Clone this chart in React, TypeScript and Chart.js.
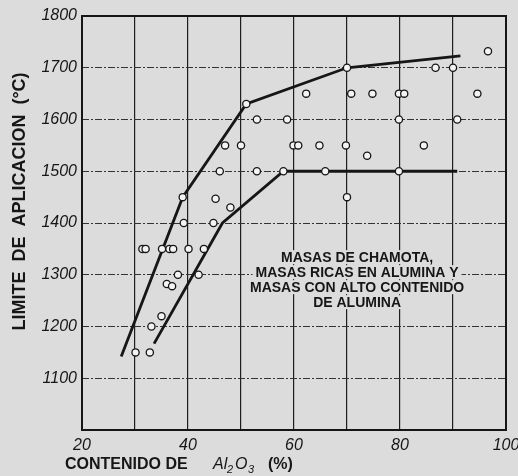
import React, { useEffect, useRef } from 'react';
import { Chart, registerables } from 'chart.js';

Chart.register(...registerables);

// ---- data ----
const xMin = 20;
const xMax = 100;
const yMin = 1000;
const yMax = 1800;
const xTickLabels = [20, 40, 60, 80, 100];
const yTickLabels = [1100, 1200, 1300, 1400, 1500, 1600, 1700, 1800];

// measured samples (open circles)
const pointX = [
  31.4, 32.0, 35.1, 36.5, 37.2, 40.1, 43.0,
  38.1, 42.0, 36.0, 37.0, 35.0, 33.1, 30.1, 32.8,
  51.0, 53.0, 47.0, 50.0, 46.0, 53.0, 39.0, 45.2, 48.0, 39.2, 44.8,
  70.0, 86.7, 90.0, 96.6, 62.3, 70.8, 74.8, 79.8, 80.8, 94.6,
  58.7, 79.8, 90.8, 59.9, 60.8, 64.8, 69.8, 73.8, 84.5,
  58.0, 65.9, 79.8, 70.0,
];
const pointY = [
  1350, 1350, 1350, 1350, 1350, 1350, 1350,
  1300, 1300, 1282, 1278, 1220, 1200, 1150, 1150,
  1630, 1600, 1550, 1550, 1500, 1500, 1450, 1447, 1430, 1400, 1400,
  1700, 1700, 1700, 1732, 1650, 1650, 1650, 1650, 1650, 1650,
  1600, 1600, 1600, 1550, 1550, 1550, 1550, 1530, 1550,
  1500, 1500, 1500, 1450,
];

// upper limit curve
const upperX = [27.4, 39.0, 51.0, 70.0, 91.4];
const upperY = [1142, 1450, 1630, 1700, 1723];

// lower limit curve
const lowerX = [33.6, 46.5, 58.0, 90.8];
const lowerY = [1167, 1400, 1500, 1500];

const noteLines = [
  'MASAS DE CHAMOTA,',
  'MASAS RICAS EN ALUMINA Y',
  'MASAS CON ALTO CONTENIDO',
  'DE ALUMINA',
];
const noteAnchorX = 71.9;
const noteAnchorY = 1334;

const yTitle = 'LIMITE  DE  APLICACION  (°C)';
const xTitleMain = 'CONTENIDO DE';
const xTitleChem = ['Al', '2', 'O', '3'];
const xTitleUnit = '(%)';

const BG = '#dcdcdc';
const INK = '#161616';

const zip = (xs: number[], ys: number[]) => xs.map((x, i) => ({ x, y: ys[i] }));

const decorPlugin = {
  id: 'decor',
  beforeDraw(chart: any) {
    const { ctx, width, height } = chart;
    ctx.save();
    ctx.fillStyle = BG;
    ctx.fillRect(0, 0, width, height);
    ctx.restore();
  },
  afterDraw(chart: any) {
    const { ctx, chartArea } = chart;
    const { left, right, top, bottom } = chartArea;
    const xs = chart.scales.x;
    const ys = chart.scales.y;
    ctx.save();

    // note text with background masks
    ctx.font = 'bold 14px "Liberation Sans", Arial, sans-serif';
    ctx.textAlign = 'center';
    ctx.textBaseline = 'middle';
    const cx = xs.getPixelForValue(noteAnchorX);
    const cy0 = ys.getPixelForValue(noteAnchorY);
    noteLines.forEach((line, i) => {
      const cy = cy0 + i * 15;
      const w = ctx.measureText(line).width;
      ctx.fillStyle = BG;
      ctx.fillRect(cx - w / 2 - 3, cy - 7, w + 6, 14);
      ctx.fillStyle = INK;
      ctx.fillText(line, cx, cy + 0.5);
    });

    // frame
    ctx.strokeStyle = INK;
    ctx.lineWidth = 2;
    ctx.beginPath();
    ctx.moveTo(left, top);
    ctx.lineTo(right, top);
    ctx.lineTo(right, bottom);
    ctx.lineTo(left, bottom);
    ctx.closePath();
    ctx.stroke();

    // y title
    ctx.save();
    ctx.translate(20.5, 201.5);
    ctx.rotate(-Math.PI / 2);
    ctx.font = 'bold 18px "Liberation Sans", Arial, sans-serif';
    ctx.textAlign = 'center';
    ctx.textBaseline = 'middle';
    ctx.fillStyle = INK;
    ctx.fillText(yTitle, 0, 0);
    ctx.restore();

    // x title
    const base = 469;
    ctx.textAlign = 'left';
    ctx.textBaseline = 'alphabetic';
    ctx.fillStyle = INK;
    ctx.font = 'bold 16px "Liberation Sans", Arial, sans-serif';
    ctx.fillText(xTitleMain, 65, base);
    ctx.font = 'italic 16px "Liberation Sans", Arial, sans-serif';
    ctx.fillText(xTitleChem[0], 213, base);
    ctx.font = 'italic 11px "Liberation Sans", Arial, sans-serif';
    ctx.fillText(xTitleChem[1], 227, base + 4);
    ctx.font = 'italic 16px "Liberation Sans", Arial, sans-serif';
    ctx.fillText(xTitleChem[2], 235, base);
    ctx.font = 'italic 11px "Liberation Sans", Arial, sans-serif';
    ctx.fillText(xTitleChem[3], 248, base + 4);
    ctx.font = 'bold 16px "Liberation Sans", Arial, sans-serif';
    ctx.fillText(xTitleUnit, 268, base);

    ctx.restore();
  },
};

export default function App() {
  const ref = useRef<HTMLCanvasElement | null>(null);

  useEffect(() => {
    if (!ref.current) return;
    const chart = new Chart(ref.current, {
      type: 'scatter',
      data: {
        datasets: [
          {
            label: 'muestras',
            data: zip(pointX, pointY),
            pointRadius: 3.6,
            pointHoverRadius: 3.6,
            borderWidth: 1.3,
            borderColor: INK,
            backgroundColor: '#f4f4f4',
            showLine: false,
          },
          {
            label: 'superior',
            data: zip(upperX, upperY),
            showLine: true,
            pointRadius: 0,
            borderColor: INK,
            borderWidth: 2.8,
            tension: 0,
            fill: false,
          },
          {
            label: 'inferior',
            data: zip(lowerX, lowerY),
            showLine: true,
            pointRadius: 0,
            borderColor: INK,
            borderWidth: 2.8,
            tension: 0,
            fill: false,
          },
        ],
      },
      options: {
        animation: false,
        responsive: false,
        devicePixelRatio: 1,
        events: [],
        layout: { padding: { left: 0, right: 12, top: 16, bottom: 0 } },
        plugins: { legend: { display: false }, tooltip: { enabled: false } },
        scales: {
          x: {
            type: 'linear',
            min: xMin,
            max: xMax,
            afterFit: (s: any) => {
              s.height = 46;
              s.paddingLeft = 0;
              s.paddingRight = 0;
            },
            ticks: {
              stepSize: 10,
              padding: 6,
              maxRotation: 0,
              autoSkip: false,
              color: INK,
              font: { family: '"Liberation Sans", Arial, sans-serif', size: 16, style: 'italic' },
              callback: (v: any) => (xTickLabels.includes(Number(v)) ? String(v) : ''),
            },
            grid: { color: '#1e1e1e', lineWidth: 1.2, drawTicks: false },
            border: { display: false },
          },
          y: {
            type: 'linear',
            min: yMin,
            max: yMax,
            afterFit: (s: any) => {
              s.width = 82;
              s.paddingTop = 0;
              s.paddingBottom = 0;
            },
            ticks: {
              stepSize: 100,
              padding: 5,
              autoSkip: false,
              color: INK,
              font: { family: '"Liberation Sans", Arial, sans-serif', size: 16, style: 'italic' },
              callback: (v: any) => (yTickLabels.includes(Number(v)) ? String(v) : ''),
            },
            grid: { color: '#333333', lineWidth: 1, drawTicks: false },
            border: { display: false, dash: [7, 2, 2, 2] },
          },
        },
      },
      plugins: [decorPlugin],
    });
    return () => chart.destroy();
  }, []);

  return (
    <div style={{ position: 'fixed', left: 0, top: 0, width: 518, height: 476, background: BG }}>
      <canvas ref={ref} width={518} height={476} style={{ display: 'block' }} />
    </div>
  );
}
